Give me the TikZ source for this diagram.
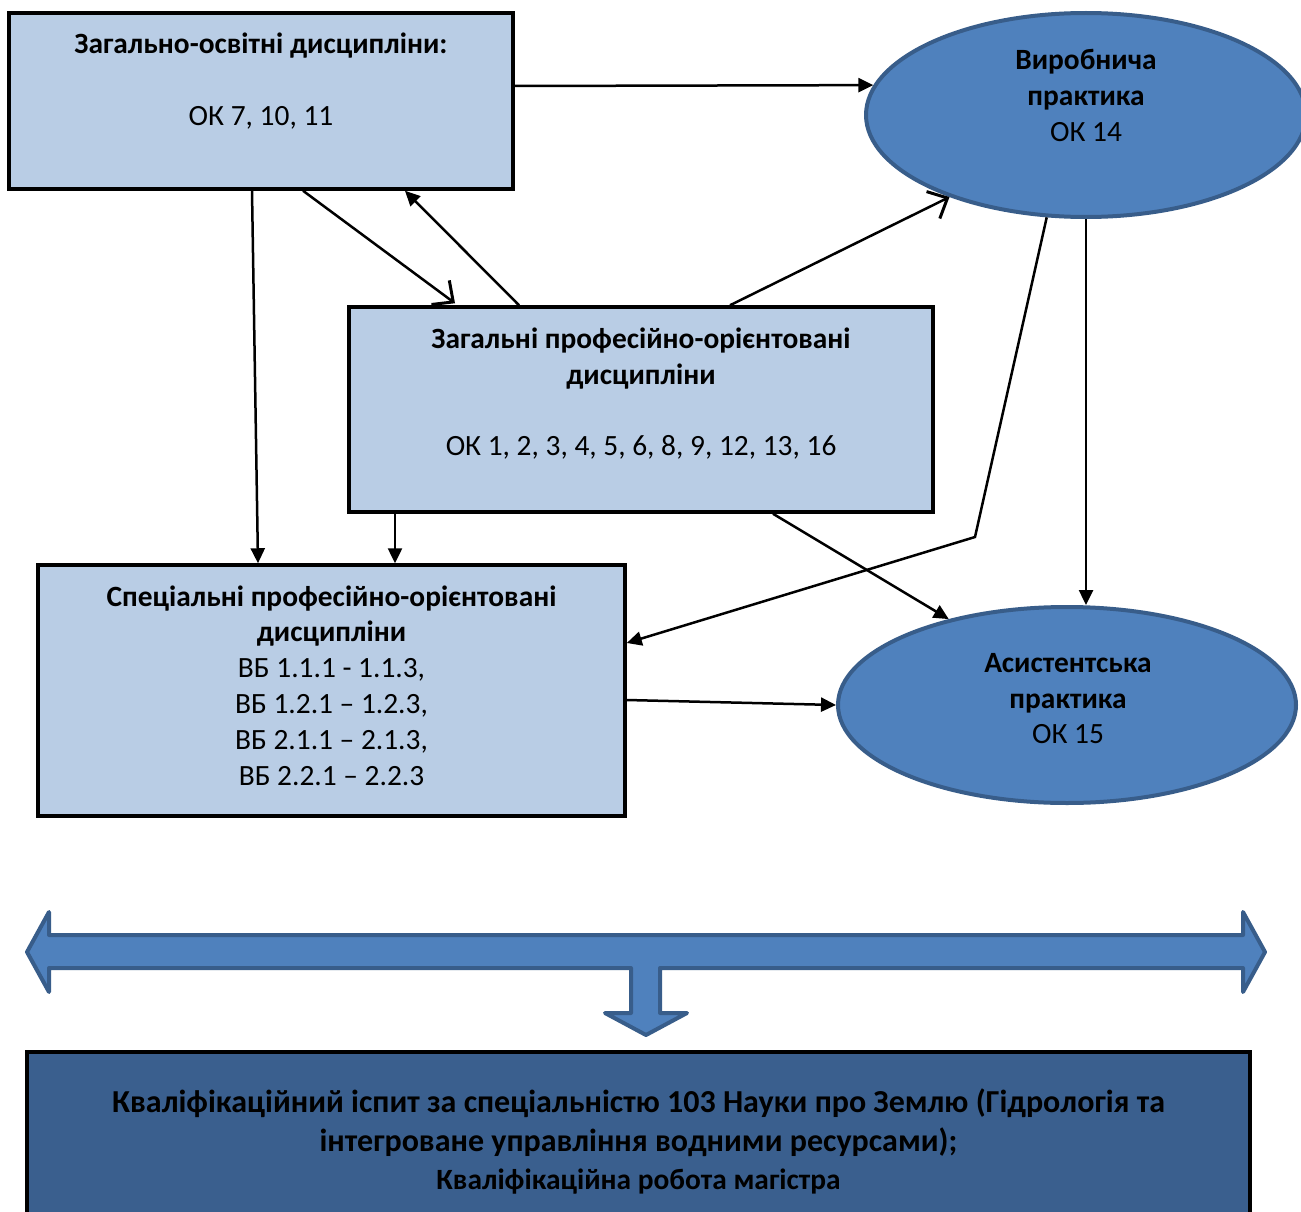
\documentclass[tikz,border=0pt]{standalone}
\usepackage{fontspec}
\setmainfont{Carlito}
\usetikzlibrary{arrows.meta,shapes.geometric}
\definecolor{boxfill}{HTML}{B9CDE5}
\definecolor{ellfill}{HTML}{4F81BD}
\definecolor{ellline}{HTML}{385D8A}
\definecolor{darkfill}{HTML}{3A5F8E}
\newcommand{\fsA}{\fontsize{29.4pt}{36pt}\selectfont}
\newcommand{\fsB}{\fontsize{32pt}{39pt}\selectfont}
\tikzset{
  lightbox/.style={draw=black, line width=3.5pt, fill=boxfill, rectangle, inner sep=0pt},
  darkbox/.style={draw=black, line width=3.5pt, fill=darkfill, rectangle, inner sep=0pt},
  oval/.style={draw=ellline, line width=4pt, fill=ellfill, ellipse, inner sep=0pt},
  txt/.style={anchor=base, inner sep=0pt, font=\fsA},
  txtb/.style={anchor=base, inner sep=0pt, font=\fsA\bfseries},
  txtB/.style={anchor=base, inner sep=0pt, font=\fsB\bfseries},
  conn/.style={line width=2.5pt, -{Triangle[length=15pt,width=14pt]}},
  connopen/.style={line width=2.5pt, -{Straight Barb[length=16pt,width=30pt,line width=3pt]}},
  bigarrow/.style={draw=ellline, line width=4pt, fill=ellfill, line join=round},
}
\begin{document}
\begin{tikzpicture}[x=1pt,y=-1pt]
\useasboundingbox (0,0) rectangle (1301,1212);
\clip (0,0) rectangle (1301,1212);

% shapes
\node[lightbox, minimum width=504pt, minimum height=176pt] (b1) at (261,101) {};
\node[lightbox, minimum width=584pt, minimum height=205pt] (b2) at (641,409.5) {};
\node[lightbox, minimum width=587pt, minimum height=251pt] (b3) at (331.5,690.5) {};
\node[oval, minimum width=440pt, minimum height=204pt] (e1) at (1086,115) {};
\node[oval, minimum width=458pt, minimum height=196pt] (e2) at (1067,705) {};
\node[darkbox, minimum width=1223pt, minimum height=200pt] (b4) at (638.5,1152) {};

% texts
\node[txtb] (t1a) at (261,54) {Загально-освітні дисципліни:};
\node[txt]  (t1b) at (261,126) {ОК 7, 10, 11};

\node[txtb] (t2a) at (641,348) {Загальні професійно-орієнтовані};
\node[txtb] (t2b) at (641,384) {дисципліни};
\node[txt]  (t2c) at (641,455) {ОК 1, 2, 3, 4, 5, 6, 8, 9, 12, 13, 16};

\node[txtb] (t3a) at (331.5,606) {Спеціальні професійно-орієнтовані};
\node[txtb] (t3b) at (331.5,641) {дисципліни};
\node[txt]  (t3c) at (331.5,677) {ВБ 1.1.1 - 1.1.3,};
\node[txt]  (t3d) at (331.5,713) {ВБ 1.2.1 – 1.2.3,};
\node[txt]  (t3e) at (331.5,749) {ВБ 2.1.1 – 2.1.3,};
\node[txt]  (t3f) at (331.5,785) {ВБ 2.2.1 – 2.2.3};

\node[txtb] (te1a) at (1086,70) {Виробнича};
\node[txtb] (te1b) at (1086,106) {практика};
\node[txt]  (te1c) at (1086,142) {ОК 14};

\node[txtb] (te2a) at (1068,672) {Асистентська};
\node[txtb] (te2b) at (1068,708) {практика};
\node[txt]  (te2c) at (1068,743) {ОК 15};

\node[txtB] (t4a) at (638.5,1112) {Кваліфікаційний іспит за спеціальністю 103 Науки про Землю (Гідрологія та};
\node[txtB] (t4b) at (638.5,1151) {інтегроване управління водними ресурсами);};
\node[txtb] (t4c) at (638.5,1189) {Кваліфікаційна робота магістра};

% big double arrow with down branch
\draw[bigarrow] (27,952) -- (49,912) -- (49,935) -- (1243,935) -- (1243,912) -- (1265,952)
  -- (1243,992) -- (1243,968) -- (660,968) -- (660,1013) -- (687,1013) -- (646,1035)
  -- (605,1013) -- (631,1013) -- (631,968) -- (49,968) -- (49,992) -- cycle;

% connectors
\coordinate (bend) at (975,537);
\draw[conn] ([yshift=15pt]b1.east) -- (e1.172.7);
\draw[connopen] ([xshift=42pt]b1.south) -- ([xshift=-186pt,yshift=2pt]b2.north);
\draw[conn] ([xshift=-122pt]b2.north) -- ([xshift=144pt]b1.south);
\draw[connopen] ([xshift=89pt]b2.north) -- (e1.211.4);
\draw[conn] ([xshift=-9pt]b1.south) -- ([xshift=-73.5pt]b3.north);
\draw[conn] ([xshift=-246pt]b2.south) -- ([xshift=63.5pt]b3.north);
\draw[conn] (e1.249.7) -- (bend) -- ([yshift=47.5pt]b3.east);
\draw[conn] (e1.south) -- ([xshift=19pt]e2.north);
\draw[conn] ([xshift=132pt]b2.south) -- (e2.144);
\draw[conn] ([yshift=-9.5pt]b3.east) -- (e2.west);
\end{tikzpicture}
\end{document}
